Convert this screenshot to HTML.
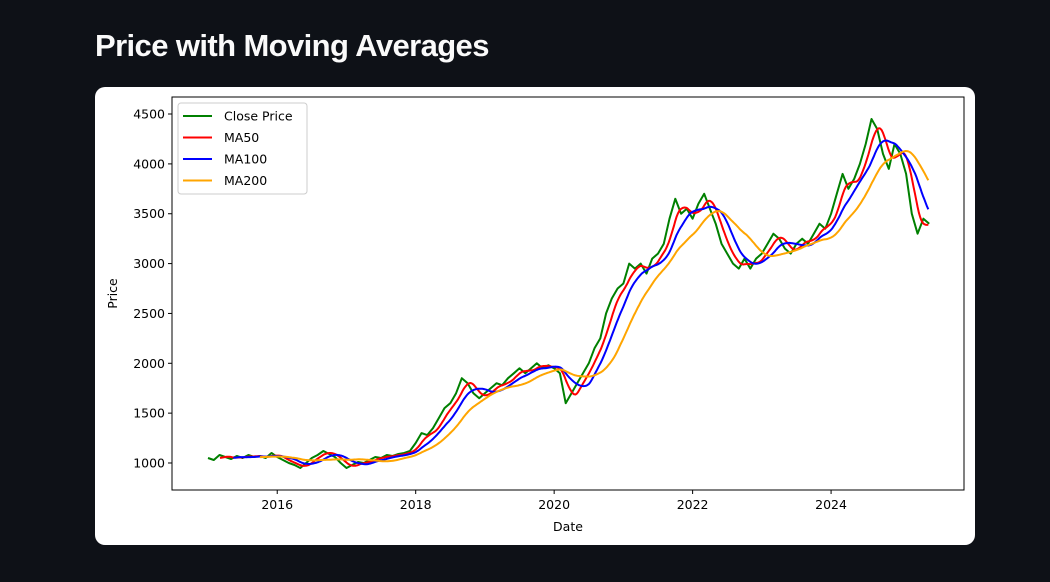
<!DOCTYPE html>
<html><head><meta charset="utf-8">
<style>
html,body{margin:0;padding:0;background:#0e1117;width:1050px;height:582px;overflow:hidden;font-family:"Liberation Sans",sans-serif}
#title{position:absolute;left:95px;top:28px;color:#fafafa;font-size:31px;font-weight:bold;letter-spacing:-0.6px}
#card{position:absolute;left:95px;top:87px;width:880px;height:458px;background:#fff;border-radius:10px;overflow:hidden}
svg text{font-family:"DejaVu Sans",sans-serif;font-size:12.5px;fill:#000}
</style></head><body>
<div id="title">Price with Moving Averages</div>
<div id="card">
<svg id="chart" width="880" height="458"></svg>
</div>
<script>
const startYear = 2015.0;
const closeMonthly = [
1050,1030,1080,1060,1040,1070,1050,1080,1060,1070,1050,1100,
1060,1030,1000,980,950,1000,1050,1080,1120,1090,1060,1000,
950,980,1010,1000,1030,1060,1050,1080,1070,1090,1100,1120,
1200,1300,1280,1350,1450,1550,1600,1700,1850,1800,1700,1650,
1700,1750,1800,1780,1850,1900,1950,1900,1950,2000,1950,1980,
1950,1900,1600,1700,1800,1900,2000,2150,2250,2500,2650,2750,
2800,3000,2950,3000,2900,3050,3100,3200,3450,3650,3500,3550,
3450,3600,3700,3550,3400,3200,3100,3000,2950,3050,2950,3050,
3100,3200,3300,3250,3150,3100,3200,3250,3200,3300,3400,3350,
3500,3700,3900,3750,3850,4000,4200,4450,4350,4100,3950,4200,
4100,3900,3500,3300,3450,3400
];
const yTicks = [1000,1500,2000,2500,3000,3500,4000,4500];
const xTicks = [2016,2018,2020,2022,2024];
const maWindowsWeeks = [10,20,40];
const seriesNames = ["Close Price","MA50","MA100","MA200"];
const seriesColors = ["green","red","blue","orange"];

const svg = document.getElementById('chart');
const NS = 'http://www.w3.org/2000/svg';
const L=77,R=869,T=10,B=403;
const xMin=2014.48, xMax=2025.92, yMin=729, yMax=4671;
const X = t => L + (t-xMin)/(xMax-xMin)*(R-L);
const Y = v => B - (v-yMin)/(yMax-yMin)*(B-T);
function el(tag, attrs){const e=document.createElementNS(NS,tag);for(const k in attrs)e.setAttribute(k,attrs[k]);svg.appendChild(e);return e;}

const weekly=[];
const nWeeks=Math.floor((closeMonthly.length-1)*52/12);
for(let w=0;w<=nWeeks;w++){
  const m=w*12/52, i=Math.floor(m), f=m-i;
  const a=closeMonthly[i], b=closeMonthly[Math.min(i+1,closeMonthly.length-1)];
  weekly.push(a+(b-a)*f);
}
function pathFrom(pts){return pts.map((p,i)=>(i?'L':'M')+p[0].toFixed(1)+','+p[1].toFixed(1)).join('');}

const frame=el('rect',{x:L,y:T,width:R-L,height:B-T,fill:'none',stroke:'#000','stroke-width':1});



yTicks.forEach(v=>{
  const y=Y(v);
  const tk=el('line',{x1:L-4,x2:L,y1:y,y2:y,stroke:'#000'});
  
  
  const t=el('text',{x:L-7,y:y+4.5,'text-anchor':'end'});t.textContent=v;
  
  
});
xTicks.forEach(v=>{
  const x=X(v);
  const tk=el('line',{x1:x,x2:x,y1:B,y2:B+4,stroke:'#000'});
  
  
  const t=el('text',{x:x,y:B+19,'text-anchor':'middle'});t.textContent=v;
  
  
});
const xl=el('text',{x:(L+R)/2,y:444,'text-anchor':'middle'});xl.textContent='Date';


const yl=el('text',{x:0,y:0,'text-anchor':'middle',transform:'translate(22,'+((T+B)/2)+') rotate(-90)'});yl.textContent='Price';



const closePts=closeMonthly.map((v,i)=>[X(startYear+i/12),Y(v)]);
const cl=el('path',{d:pathFrom(closePts),fill:'none',stroke:seriesColors[0],'stroke-width':2,'stroke-linejoin':'round'});



maWindowsWeeks.forEach((win,k)=>{
  const pts=[];
  for(let w=win-1;w<weekly.length;w++){
    let s=0;for(let j=w-win+1;j<=w;j++)s+=weekly[j];
    pts.push([X(startYear+w/52),Y(s/win)]);
  }
  const p=el('path',{d:pathFrom(pts),fill:'none',stroke:seriesColors[k+1],'stroke-width':2,'stroke-linejoin':'round'});
  
  
});

const lg=el('rect',{x:83,y:16,width:129,height:91,rx:3,fill:'#fff',stroke:'#ccc','fill-opacity':0.85});


seriesNames.forEach((n,i)=>{
  const y=29+i*21.5;
  const ln=el('line',{x1:88,x2:117,y1:y,y2:y,stroke:seriesColors[i],'stroke-width':2});
  
  
  const t=el('text',{x:129,y:y+4.5});t.textContent=n;
  
  
});
</script>
</body></html>
